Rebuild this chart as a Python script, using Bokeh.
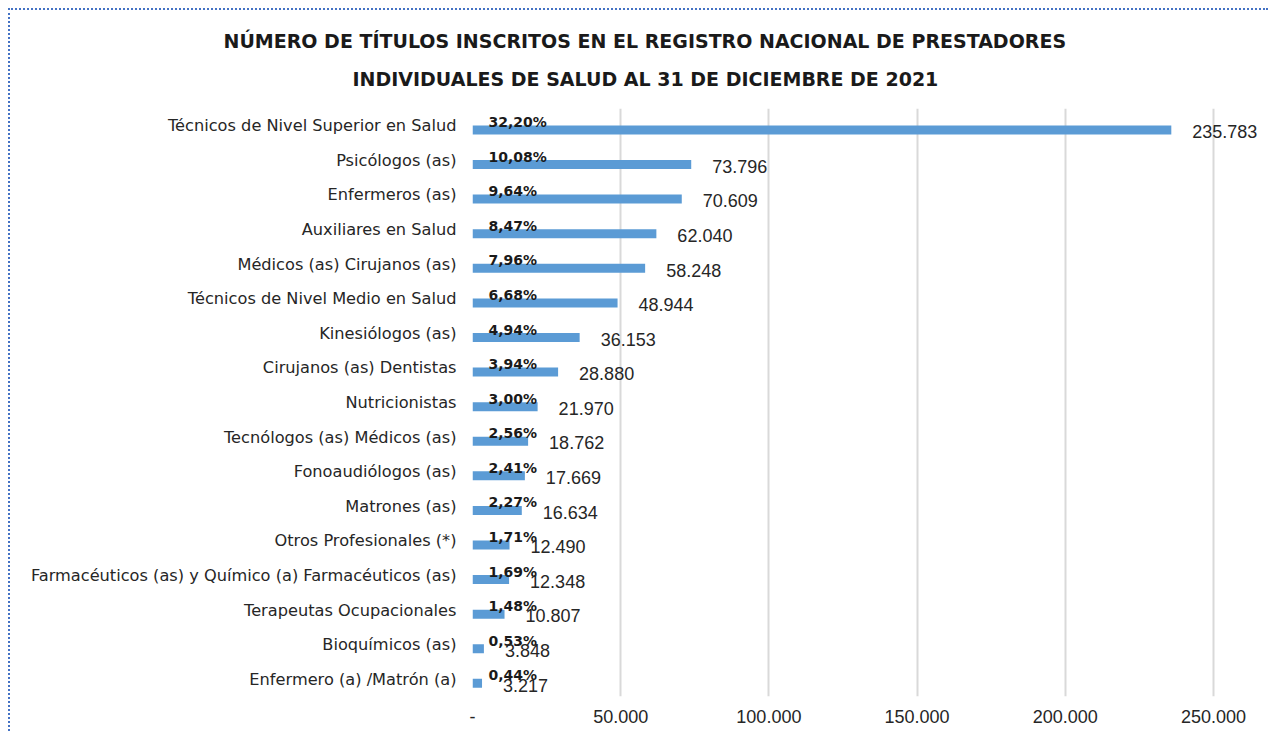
from bokeh.plotting import figure
from bokeh.models import FactorRange, FixedTicker, ColumnDataSource, Title, Range1d
from bokeh.transform import dodge
from bokeh.core.properties import value
from bokeh.embed import file_html
from bokeh.resources import INLINE

categories = [
    "Técnicos de Nivel Superior en Salud",
    "Psicólogos (as)",
    "Enfermeros (as)",
    "Auxiliares en Salud",
    "Médicos (as) Cirujanos (as)",
    "Técnicos de Nivel Medio en Salud",
    "Kinesiólogos (as)",
    "Cirujanos (as) Dentistas",
    "Nutricionistas",
    "Tecnólogos (as) Médicos (as)",
    "Fonoaudiólogos (as)",
    "Matrones (as)",
    "Otros Profesionales (*)",
    "Farmacéuticos (as) y Químico (a) Farmacéuticos (as)",
    "Terapeutas Ocupacionales",
    "Bioquímicos (as)",
    "Enfermero (a) /Matrón (a)",
]
values = [235783, 73796, 70609, 62040, 58248, 48944, 36153, 28880,
          21970, 18762, 17669, 16634, 12490, 12348, 10807, 3848, 3217]
percents = ["32,20%", "10,08%", "9,64%", "8,47%", "7,96%", "6,68%", "4,94%",
            "3,94%", "3,00%", "2,56%", "2,41%", "2,27%", "1,71%", "1,69%",
            "1,48%", "0,53%", "0,44%"]
tick_values = [0, 50000, 100000, 150000, 200000, 250000]
tick_labels = ["-", "50.000", "100.000", "150.000", "200.000", "250.000"]
title_lines = [
    "NÚMERO DE TÍTULOS INSCRITOS EN EL REGISTRO NACIONAL DE PRESTADORES",
    "INDIVIDUALES DE SALUD AL 31 DE DICIEMBRE  DE 2021",
]

value_text = [f"{v:,}".replace(",", ".") for v in values]
zeros = [0] * len(values)

source = ColumnDataSource(dict(cat=categories, val=values, pct=percents,
                               vtxt=value_text, zero=zeros))

p = figure(
    width=1260, height=723,
    y_range=FactorRange(*reversed(categories)),
    x_range=Range1d(0, 267900),
    output_backend="svg", toolbar_location=None,
    min_border_left=462, min_border_right=4,
    min_border_top=98, min_border_bottom=37,
)
p.styles = {"margin-left": "8px", "margin-top": "8px",
            "border-left": "2px dotted #4472C4", "border-top": "2px dotted #4472C4"}
p.outline_line_color = None
p.background_fill_color = "white"

p.hbar(y=dodge("cat", -0.12, range=p.y_range), right="val", left=0, height=0.26,
       source=source, fill_color="#5B9BD5", line_color=None)

p.text(x="zero", y=dodge("cat", 0.11, range=p.y_range), text="pct", source=source,
       x_offset=16, text_align="left", text_baseline="middle",
       text_font=value("DejaVu Sans"), text_font_style="bold",
       text_font_size="14px", text_color="#1a1a1a")

p.text(x="val", y=dodge("cat", -0.17, range=p.y_range), text="vtxt", source=source,
       x_offset=21, text_align="left", text_baseline="middle",
       text_font=value("Liberation Sans"), text_font_size="18px", text_color="#262626")

p.xaxis.ticker = FixedTicker(ticks=tick_values)
p.xaxis.major_label_overrides = {t: l for t, l in zip(tick_values, tick_labels)}
p.xaxis.axis_line_color = None
p.xaxis.major_tick_line_color = None
p.xaxis.minor_tick_line_color = None
p.xaxis.major_label_standoff = 7
p.xaxis.major_label_text_font = "Liberation Sans"
p.xaxis.major_label_text_font_size = "18px"
p.xaxis.major_label_text_color = "#262626"

p.yaxis.axis_line_color = None
p.yaxis.major_tick_line_color = None
p.yaxis.minor_tick_line_color = None
p.yaxis.major_label_standoff = 10
p.yaxis.major_label_text_font = "DejaVu Sans"
p.yaxis.major_label_text_font_size = "16.2px"
p.yaxis.major_label_text_color = "#262626"

p.xgrid.grid_line_color = "#d9d9d9"
p.xgrid.grid_line_width = 2
p.ygrid.grid_line_color = None

# second line first (closest to the plot), then first line
for line, off, so, va in [(title_lines[1], -120, 33, "top"), (title_lines[0], -249, 0, "bottom")]:
    p.add_layout(Title(text=line, align="left", offset=off, standoff=so, vertical_align=va,
                       text_font="DejaVu Sans", text_font_style="bold",
                       text_font_size="19px", text_color="#1a1a1a"), "above")

open("out.html", "w").write(file_html(p, INLINE))
